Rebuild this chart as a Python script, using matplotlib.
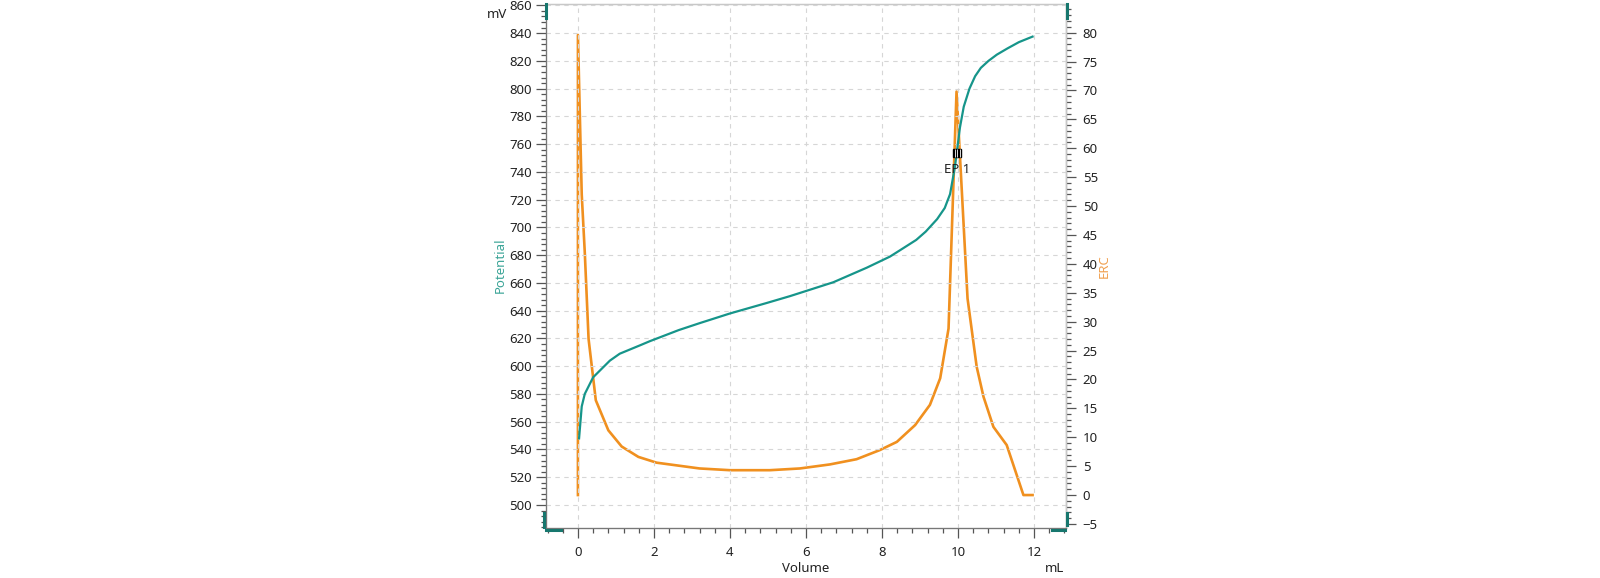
import matplotlib
matplotlib.use("Agg")
import matplotlib.pyplot as plt
from matplotlib.lines import Line2D
from matplotlib.ticker import MultipleLocator

plt.rcParams["font.family"] = ["Noto Sans", "DejaVu Sans"]

# potential curve (mV vs mL)
pot_vol = [0.03, 0.1, 0.18, 0.4, 0.84, 1.1, 1.63, 1.89, 2.65, 3.2, 4.0, 4.96, 5.58, 6.72,
           7.6, 8.21, 8.47, 8.9, 9.15, 9.45, 9.65, 9.79, 9.92, 10.05, 10.15, 10.3, 10.45,
           10.6, 10.8, 11.02, 11.3, 11.6, 11.96]
pot_mv = [548, 571, 580, 592, 604, 609, 615, 618, 626, 631, 638, 645.5, 650.5, 660.5,
          671, 679, 683.5, 691, 697, 706, 714, 724, 744, 772, 787, 800, 809,
          815, 820, 824.5, 829, 833.5, 837.5]

# ERC curve
erc_vol = [0.0, 0.0, 0.1, 0.18, 0.28, 0.47, 0.8, 1.15, 1.59, 2.07, 3.2, 4.0, 5.05, 5.84,
           6.63, 7.33, 7.95, 8.39, 8.87, 9.26, 9.53, 9.75, 9.96, 10.25, 10.49, 10.67,
           10.93, 11.28, 11.72, 11.96]
erc_val = [0.0, 79.6, 52, 42, 27, 16.4, 11.2, 8.4, 6.6, 5.6, 4.6, 4.3, 4.3, 4.6,
           5.3, 6.2, 7.8, 9.2, 12.1, 15.6, 20.2, 28.8, 69.8, 34.0, 22.2, 17.0,
           11.8, 8.65, 0.0, 0.0]

# end point
ep_vol = 9.98
ep_mv = 753.6
ep_label = "EP 1"

teal = "#16958a"
orange = "#f0901f"
handle = "#17776e"
W, H = 1600, 578

fig = plt.figure(figsize=(16, 5.78), dpi=100)
ax = fig.add_axes([546 / W, 1 - 528 / H, 520 / W, 524 / H])
ax2 = ax.twinx()

ax.set_xlim(-0.84, 12.84)
ax.set_ylim(483.4, 861)
ax2.set_ylim(-5.7, 84.95)

ax.xaxis.set_major_locator(MultipleLocator(2))
ax.xaxis.set_minor_locator(MultipleLocator(0.4))
ax.yaxis.set_major_locator(MultipleLocator(20))
ax.yaxis.set_minor_locator(MultipleLocator(4))
ax2.yaxis.set_major_locator(MultipleLocator(5))
ax2.yaxis.set_minor_locator(MultipleLocator(1))

ax.grid(True, which="major", color="#d6d6d6", linestyle=(0, (4, 4)), linewidth=0.8)
ax.set_axisbelow(True)

for a in (ax, ax2):
    for s in a.spines.values():
        s.set_color("#c8c8c8")
        s.set_linewidth(0.9)
ax.spines["left"].set_color("#777777")
ax.spines["bottom"].set_color("#777777")
ax2.spines["right"].set_color("#777777")

ax.tick_params(axis="both", which="major", direction="out", length=7, width=0.9,
               color="#555555", labelsize=9.5, labelcolor="#222222")
ax.tick_params(axis="both", which="minor", direction="out", length=3.5, width=0.9,
               color="#555555")
ax.tick_params(axis="y", which="major", pad=3)
ax.tick_params(axis="x", which="major", pad=6)
ax2.tick_params(axis="y", which="major", direction="out", length=7, width=0.9,
                color="#555555", labelsize=9.5, labelcolor="#222222", pad=5)
ax2.tick_params(axis="y", which="minor", direction="out", length=3.5, width=0.9,
                color="#555555")

ax.plot(pot_vol, pot_mv, color=teal, linewidth=1.6, zorder=3)
ax2.plot(erc_vol, erc_val, color=orange, linewidth=1.9, zorder=2)

# end point marker
ax.plot([ep_vol], [ep_mv], marker="s", markersize=5.5, color="black", zorder=5)
ax.plot([ep_vol - 0.07, ep_vol, ep_vol + 0.07], [ep_mv] * 3, linestyle="none",
        marker="|", markersize=5.5, color="white", markeredgewidth=0.6, zorder=6)
ax.annotate(ep_label, (ep_vol, ep_mv), xytext=(0, -12), textcoords="offset points",
            ha="center", va="center", fontsize=9.5, color="#222222", zorder=6)

ax.set_zorder(ax2.get_zorder() + 1)
ax.patch.set_visible(False)

# axis texts
fig.text(806 / W, 1 - 568 / H, "Volume", ha="center", va="center", fontsize=9.5, color="#222222")
fig.text(1055 / W, 1 - 568 / H, "mL", ha="center", va="center", fontsize=9.5, color="#222222")
fig.text(497 / W, 1 - 14 / H, "mV", ha="center", va="center", fontsize=9.5, color="#222222")
fig.text(500 / W, 1 - 265 / H, "Potential", ha="center", va="center", rotation=90,
         fontsize=9.5, color="#3ba497")
fig.text(1104 / W, 1 - 266 / H, "ERC", ha="center", va="center", rotation=90,
         fontsize=9.5, color="#f0a050")

# small axis handles at the corners
def px_line(xs, ys):
    fig.add_artist(Line2D([x / W for x in xs], [1 - y / H for y in ys],
                          color=handle, linewidth=2.2, transform=fig.transFigure))

px_line([546, 546], [4, 18])
px_line([544, 544], [513, 527])
px_line([546, 561], [530, 530])
px_line([1052, 1065], [530, 530])
px_line([1067, 1067], [513, 525])
px_line([1067, 1067], [4, 18])

plt.savefig("out.png", dpi=100)
